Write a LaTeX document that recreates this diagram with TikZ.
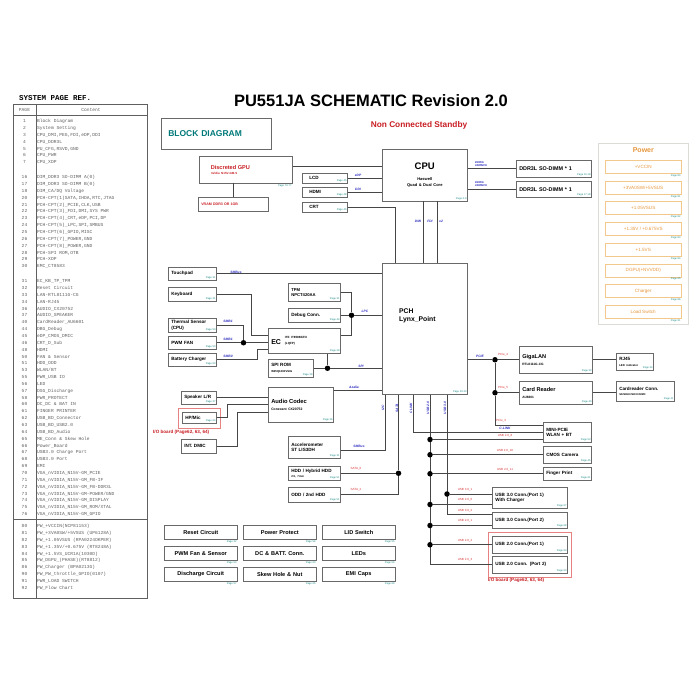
\documentclass[tikz,border=0pt]{standalone}
\usepackage{fontspec}
\setmainfont{Liberation Sans}
\newfontfamily\reffont{Liberation Mono}
\usetikzlibrary{positioning}

\definecolor{wiregray}{RGB}{70,70,70}
\definecolor{boxgray}{RGB}{105,105,105}
\definecolor{pageteal}{RGB}{20,135,130}
\definecolor{blockteal}{RGB}{0,120,120}
\definecolor{busblue}{RGB}{45,45,190}
\definecolor{sigred}{RGB}{215,50,50}
\definecolor{headred}{RGB}{200,30,35}
\definecolor{pworange}{RGB}{230,150,60}
\definecolor{pwframe}{RGB}{242,200,140}
\definecolor{panelgray}{RGB}{220,220,215}
\definecolor{ioframe}{RGB}{230,130,130}
\definecolor{tabgray}{RGB}{95,95,95}

\begin{document}
\begin{tikzpicture}[x=1pt, y=-1pt,
  box/.style = {draw=boxgray, line width=0.5pt, anchor=north west, inner sep=0pt, align=left, font=\bfseries\fontsize{4.6}{5.4}\selectfont},
  wh/.style 2 args = {minimum width=#1pt, minimum height=#2pt, text width={#1pt-6pt}},
  pgtxt/.style = {inner sep=0.8pt, text=pageteal, font=\fontsize{2.6}{3}\selectfont},
  pg/.style = {label={[pgtxt, anchor=south east]south east:Page #1}},
  pgout/.style = {label={[pgtxt, anchor=north east]south east:Page #1}},
  cellbox/.style = {box, wh={73}{14}, align=center, font=\bfseries\fontsize{5.6}{6}\selectfont},
  pwbox/.style = {draw=pwframe, line width=0.5pt, anchor=north west, minimum width=76pt, minimum height=13pt, inner sep=0pt, text=pworange, font=\fontsize{4.6}{5}\selectfont},
  iobox/.style = {draw=ioframe, line width=0.5pt, anchor=north west, inner sep=0pt},
  iotxt/.style = {text=headred, inner sep=0pt, font=\bfseries\fontsize{4.6}{5}\selectfont},
  wire/.style = {draw=wiregray, line width=0.6pt},
  joint/.style = {circle, fill=black, inner sep=0pt, minimum size=5.5pt},
  bus/.style = {text=busblue, inner sep=0.5pt, font=\bfseries\itshape\fontsize{3.3}{3.6}\selectfont},
  sig/.style = {text=sigred, inner sep=0.5pt, font=\fontsize{3}{3.4}\selectfont},
  tabtxt/.style = {inner sep=0pt, text=tabgray, font=\reffont\fontsize{4.6}{6.85}\selectfont}
]
\useasboundingbox (0,0) rectangle (700,700);

% page reference table
\node[anchor=west, inner sep=0pt, font=\reffont\bfseries\fontsize{7.5}{8}\selectfont] (sysref) at (19,98) {SYSTEM PAGE REF.};
\node[draw=tabgray, line width=0.6pt, anchor=north west, minimum width=134pt, minimum height=494pt, inner sep=0pt] (reftab) at (13,104) {};
\draw[tabgray, line width=0.6pt] ([xshift=23pt]reftab.north west) -- ([xshift=23pt]reftab.south west);
\draw[tabgray, line width=0.6pt] ([yshift=-11pt]reftab.north west) -- ([yshift=-11pt]reftab.north east);
\draw[tabgray, line width=0.6pt] ([yshift=-415pt]reftab.north west) -- ([yshift=-415pt]reftab.north east);
\node[tabtxt] (pagehd) at (24.5,110) {PAGE};
\node[tabtxt] (conthd) at (91,110) {Content};

\node[tabtxt, anchor=north, align=center] (pgA) at (24.5,117.7) {\strut 1\\2\\3\\4\\5\\6\\7};
\node[tabtxt, anchor=north west, align=left] (ctA) at (37,117.7) {\strut Block Diagram\\System Setting\\CPU\_DMI,PEG,FDI,eDP,DDI\\CPU\_DDR3L\\PU\_CFG,RSVD,GND\\CPU\_PWR\\CPU\_XDP};
\node[tabtxt, anchor=north, align=center] (pgB) at (24.5,173.7) {\strut 16\\17\\18\\20\\21\\22\\23\\24\\25\\26\\27\\28\\29\\30};
\node[tabtxt, anchor=north west, align=left] (ctB) at (37,173.7) {\strut DIM\_DDR3 SO-DIMM A(0)\\DIM\_DDR3 SO-DIMM B(0)\\DIM\_CA/DQ Voltage\\PCH-CPT(1)SATA,IHDA,RTC,JTAG\\PCH-CPT(2)\_PCIE,CLK,USB\\PCH-CPT(3)\_FDI,DMI,SYS PWR\\PCH-CPT(4)\_CRT,eDP,PCI,DP\\PCH-CPT(5)\_LPC,SPI,SMBUS\\PCH-CPT(6)\_GPIO,MISC\\PCH-CPT(7)\_POWER,GND\\PCH-CPT(8)\_POWER,GND\\PCH-SPI ROM,OTB\\PCH-XDP\\EMC\_CT8583};
\node[tabtxt, anchor=north, align=center] (pgC) at (24.5,277.7) {\strut 31\\32\\33\\34\\36\\37\\40\\44\\45\\46\\48\\50\\51\\53\\55\\56\\57\\58\\60\\61\\62\\63\\64\\65\\66\\67\\68\\69\\70\\71\\72\\73\\74\\75\\76};
\node[tabtxt, anchor=north west, align=left] (ctC) at (37,277.7) {\strut EC\_KB\_TP\_TPM\\Reset Circuit\\LAN-RTL8111G-CG\\LAN-RJ45\\AUDIO\_CX20752\\AUDIO\_SPEAKER\\CardReader\_AU6601\\DBG\_Debug\\eDP\_CMOS\_DMIC\\CRT\_D\_Sub\\HDMI\\FAN \& Sensor\\HDD\_ODD\\WLAN/BT\\PWR\_USB IO\\LED\\DSG\_Discharge\\PWR\_PROTECT\\DC\_DC \& BAT IN\\FINGER PRINTER\\USB\_BD\_Connector\\USB\_BD\_USB2.0\\USB\_BD\_Audio\\ME\_Conn \& Skew Hole\\Power\_Board\\USB3.0 Charge Port\\USB3.0 Port\\EMI\\VGA\_nVIDIA\_N15V-GM\_PCIE\\VGA\_nVIDIA\_N15V-GM\_FB-IF\\VGA\_nVIDIA\_N15V-GM\_FB-DDR3L\\VGA\_nVIDIA\_N15V-GM-POWER/GND\\VGA\_nVIDIA\_N15V-GM\_DISPLAY\\VGA\_nVIDIA\_N15V-GM\_ROM/XTAL\\VGA\_nVIDIA\_N15V-GM\_GPIO};
\node[tabtxt, anchor=north, align=center] (pgD) at (24.5,522.7) {\strut 80\\81\\82\\83\\84\\85\\86\\90\\91\\92};
\node[tabtxt, anchor=north west, align=left] (ctD) at (37,522.7) {\strut PW\_+VCCIN(NCP81153)\\PW\_+3VA0SW/+5VSUS (UP6128A)\\PW\_+1.05VSUS (RPA0224OKPER)\\PW\_+1.35V/+0.675V (RT8248A)\\PW\_+1.5VS\_UCR1A(1030D)\\PW\_DGPU\_(PHASE)(RT8812)\\PW\_Charger (BPA0213G)\\PW\_PW\_throttle\_GPIO(0107)\\PWR\_LOAD SWITCH\\PW\_Flow Chart};

% headings
\node[inner sep=0pt, font=\bfseries\fontsize{16.5}{18}\selectfont] (title) at (371,101) {PU551JA SCHEMATIC Revision 2.0};
\node[inner sep=0pt, text=headred, font=\bfseries\fontsize{8.3}{9}\selectfont] (standby) at (419,125) {Non Connected Standby};
\node[box, wh={110}{31}, text width=96pt, text=blockteal, font=\bfseries\fontsize{8.5}{9}\selectfont] (blockdiag) at (161,118) {BLOCK DIAGRAM};

% CPU and video
\node[box, wh={93}{27}, text width=70pt, text=headred, pgout=70-77] (gpu) at (199,156) {{\fontsize{5.6}{7}\selectfont Discreted GPU}\\{\fontsize{3}{4}\selectfont nVidia N15V-GM-S}};
\node[box, wh={70}{14}, text=headred, font=\bfseries\fontsize{3.6}{4}\selectfont] (vram) at (198,197) {VRAM DDR3 OR 1GB};
\node[box, wh={45}{10}, text width=31pt, pg=45] (lcd) at (302,173) {LCD};
\node[box, wh={45}{10}, text width=31pt, pg=48] (hdmi) at (302,187) {HDMI};
\node[box, wh={45}{10}, text width=31pt, pg=46] (crt) at (302,202) {CRT};
\node[box, wh={85}{52}, align=center, pg=3-9] (cpu) at (382,149) {{\fontsize{9.5}{11}\selectfont CPU}\\[5pt]{\fontsize{4}{5}\selectfont Haswell}\\[1pt]{\fontsize{4}{5}\selectfont Quad \& Dual Core}};
\node[box, wh={75}{17}, font=\bfseries\fontsize{5.4}{6}\selectfont, pg={16,18}] (dimmA) at (516,160) {DDR3L SO-DIMM * 1};
\node[box, wh={75}{16}, font=\bfseries\fontsize{5.4}{6}\selectfont, pg={17,18}] (dimmB) at (516,181) {DDR3L SO-DIMM * 1};

% power rails
\node[draw=panelgray, line width=0.6pt, anchor=north west, minimum width=90pt, minimum height=181pt, inner sep=0pt] (pwpanel) at (598,143) {};
\node[below=4pt of pwpanel.north, inner sep=0pt, text=pworange, font=\bfseries\fontsize{7}{8}\selectfont] (pwhead) {Power};
\node[pwbox, pgout=80] (pwA) at (605,160) {+VCCIN};
\node[pwbox, pgout=81] (pwB) at (605,180.7) {+3VA0SW/+5VSUS};
\node[pwbox, pgout=82] (pwC) at (605,201.4) {+1.05VSUS};
\node[pwbox, pgout=83] (pwD) at (605,222.1) {+1.35V / +0.675VS};
\node[pwbox, pgout=84] (pwE) at (605,242.8) {+1.5VS};
\node[pwbox, pgout=85] (pwF) at (605,263.5) {DGPU(+NVVDD)};
\node[pwbox, pgout=86] (pwG) at (605,284.2) {Charger};
\node[pwbox, pgout=91] (pwH) at (605,304.9) {Load Switch};

% PCH side
\node[box, wh={85}{131}, pg=20-30] (pch) at (382,263) {};
\node[anchor=north west, inner sep=0pt, align=left, font=\bfseries\fontsize{6.8}{8}\selectfont] (pchname) at ([xshift=17pt,yshift=-46pt]pch.north west) {PCH\\Lynx\_Point};
\node[box, wh={48}{13}, pg=31] (touch) at (168,267) {Touchpad};
\node[box, wh={48}{14}, pg=31] (kbd) at (168,287) {Keyboard};
\node[box, wh={48}{14}, pg=50] (therm) at (168,318) {Thermal Sensor\\(CPU)};
\node[box, wh={48}{13}, pg=50] (fan) at (168,336) {PWM FAN};
\node[box, wh={48}{13}, pg=60] (batt) at (168,353) {Battery Charger};
\node[box, wh={52}{18}, pg=31, font=\bfseries\fontsize{4.2}{5}\selectfont] (tpm) at (288,283) {TPM\\NPCT420AA};
\node[box, wh={52}{14}, pg=44] (dbg) at (288,308) {Debug Conn.};
\node[box, wh={72}{25}, pg=39] (ec) at (268,328) {{\fontsize{7}{8}\selectfont EC}\hspace{4pt}{\fontsize{3}{3.5}\selectfont\shortstack[l]{ITE IT8586E/FX\\(LQFP)}}};
\node[box, wh={45}{18}, pg=28] (spirom) at (268,359) {SPI ROM\\{\fontsize{2.8}{3.5}\selectfont W25Q128FVSIG}};
\node[box, wh={35}{13}, pg=37] (speaker) at (181,391) {Speaker L/R};
\node[iobox, minimum width=42pt, minimum height=20pt] (hpframe) at (178,408) {};
\node[box, wh={34}{11}, pg=64] (hpmic) at (182,412) {HP/Mic};
\node[iotxt, anchor=north west] (hpnote) at (153,430) {I/O board (Page62, 63, 64)};
\node[box, wh={35}{14}] (dmic) at (181,439) {INT. DMIC};
\node[box, wh={65}{35}, pg=36] (codec) at (268,387) {{\fontsize{5.8}{7}\selectfont Audio Codec}\\[1pt]{\fontsize{3.4}{4}\selectfont Conexant CX20752}};
\node[box, wh={52}{22}, pg=31] (accel) at (288,436) {Accelerometer\\ST LIS3DH};
\node[box, wh={52}{14}, pg=51] (hdd) at (288,466) {HDD / Hybrid HDD\\{\fontsize{2.8}{3.4}\selectfont 2.5, 7mm}};
\node[box, wh={52}{15}, pg=51] (odd) at (288,487) {ODD / 2nd HDD};

% PCIe and USB devices
\node[box, wh={73}{27}, pg=33] (lan) at (519,346) {{\fontsize{5.6}{6.5}\selectfont GigaLAN}\\[2pt]{\fontsize{3.2}{4}\selectfont RTL8111G-CG}};
\node[box, wh={37}{17}, pg=34] (rj45) at (616,353) {RJ45\\{\fontsize{2.8}{3.4}\selectfont LED indicator}};
\node[box, wh={73}{23}, pg=40] (cr) at (519,381) {{\fontsize{5.6}{6.5}\selectfont Card Reader}\\[2pt]{\fontsize{3.2}{4}\selectfont AU6601}};
\node[box, wh={58}{20}, pg=41] (crconn) at (616,381) {Cardreader Conn.\\{\fontsize{2.6}{3.4}\selectfont SD/SDHC/SDXC/MMC}};
\node[box, wh={48}{20}, pg=53] (mpcie) at (543,422) {MINI-PCIE\\WLAN + BT};
\node[box, wh={48}{17}, pg=45] (cam) at (543,446) {CMOS Camera};
\node[box, wh={48}{13}, pg=61] (fp) at (543,467) {Finger Print};
\node[box, wh={75}{21}, pg=67] (usbA) at (492,487) {USB 3.0 Conn.(Port 1)\\With Charger};
\node[box, wh={75}{16}, pg=68] (usbB) at (492,512) {USB 3.0 Conn.(Port 2)};
\node[iobox, minimum width=83pt, minimum height=45pt] (ioframe) at (488,532) {};
\node[box, wh={75}{17}, pg=63] (usbC) at (492,536) {USB 2.0 Conn.(Port 1)};
\node[box, wh={75}{17}, pg=63] (usbD) at (492,556) {USB 2.0 Conn. (Port 2)};
\node[iotxt, anchor=north west] (ionote) at (488,578) {I/O board (Page62, 63, 64)};

% misc pages
\node[cellbox, pgout=32] (reset) at (164,525) {Reset Circuit};
\node[cellbox, pgout=58] (protect) at (243,525) {Power Protect};
\node[cellbox, pgout=55] (lid) at (322,525) {LID Switch};
\node[cellbox, pgout=50] (pwmfan) at (164,546) {PWM Fan \& Sensor};
\node[cellbox, pgout=60] (dcbatt) at (243,546) {DC \& BATT. Conn.};
\node[cellbox, pgout=56] (leds) at (322,546) {LEDs};
\node[cellbox, pgout=57] (dsg) at (164,567) {Discharge Circuit};
\node[cellbox, pgout=65] (skew) at (243,567) {Skew Hole \& Nut};
\node[cellbox, pgout=69] (emi) at (322,567) {EMI Caps};

% CPU links
\draw[wire] ([yshift=3.5pt]gpu.east) -- ([yshift=3.5pt]gpu.east -| cpu.west);
\draw[wire] (vram.north) -- (vram.north |- gpu.south);
\draw[wire] (lcd.east) -- (lcd.east -| cpu.west);
\draw[wire] (hdmi.east) -- (hdmi.east -| cpu.west);
\draw[wire] (crt.east) -| ([xshift=13pt]pch.north west);
\draw[wire] ([xshift=41pt]cpu.south west) -- ([xshift=41pt]pch.north west);
\draw[wire] ([xshift=55pt]cpu.south west) -- ([xshift=55pt]pch.north west);
\draw[wire] (dimmA.west) -- (dimmA.west -| cpu.east);
\draw[wire] (dimmB.west) -- (dimmB.west -| cpu.east);

% EC and audio links
\draw[wire] (touch.east) -- (touch.east -| pch.west);
\draw[wire] (kbd.east) -| ([xshift=-17pt,yshift=-7pt]ec.north west) -- ([yshift=-7pt]ec.north west);
\node[joint] (sensdot) at ([xshift=27pt]fan.east) {};
\draw[wire] (therm.east) -| (sensdot);
\draw[wire] (fan.east) -- (sensdot) -- (sensdot -| ec.west);
\draw[wire] (batt.east) -| ([xshift=-11pt,yshift=4pt]ec.south west) -- ([yshift=4pt]ec.south west);
\node[joint] (lpcdot) at ([xshift=11pt]dbg.east) {};
\draw[wire] (tpm.east) -| (lpcdot);
\draw[wire] (dbg.east) -- (lpcdot) -- (lpcdot -| pch.west);
\draw[wire] ([yshift=-7pt]ec.north east) -| (lpcdot);
\node[joint] (spidot) at ([xshift=14pt]spirom.east) {};
\draw[wire] (spirom.east) -- (spidot) -- (spidot -| pch.west);
\draw[wire] (spidot |- ec.south) -- (spidot);
\draw[wire] ([yshift=-3pt]codec.north east) -- ([yshift=-3pt]codec.north east -| pch.west);
\draw[wire] (speaker.east) -- (speaker.east -| codec.west);
\draw[wire] (hpmic.east) -| ([xshift=-41pt,yshift=-17pt]codec.north west) -- ([yshift=-17pt]codec.north west);
\draw[wire] (dmic.east) -| ([xshift=-31pt,yshift=-25pt]codec.north west) -- ([yshift=-25pt]codec.north west);
\draw[wire] ([yshift=-3pt]accel.east) -| ([xshift=3pt]pch.south west);
\node[joint] (satadot) at ([xshift=58pt]hdd.east) {};
\draw[wire] (hdd.east) -- (satadot) -- (satadot |- pch.south);
\draw[wire] (odd.east) -| (satadot);

% PCIe links
\node[joint] (landot) at ([xshift=-24pt]lan.west) {};
\node[joint] (crdot) at ([xshift=-24pt]cr.west) {};
\draw[wire] (landot -| pch.east) -- (landot) -- (lan.west);
\draw[wire] (landot) -- (crdot) -- (cr.west);
\draw[wire] (crdot) |- ([yshift=-3pt]mpcie.north west);
\draw[wire] (lan.east) -- (lan.east -| rj45.west);
\draw[wire] (cr.east) -- (cr.east -| crconn.west);
\draw[wire] ([xshift=31pt]pch.south west) |- (mpcie.west);

% USB links
\coordinate (usb2top) at ([xshift=48pt]pch.south west);
\coordinate (usb3top) at ([xshift=65pt]pch.south west);
\draw[wire] (usb2top) |- (usbD.west);
\draw[wire] (usb3top) |- ([yshift=-2pt]usbB.north west);
\node[joint] (uA) at ([yshift=3pt]mpcie.south west -| usb2top) {};
\node[joint] (uB) at (usb2top |- cam.west) {};
\node[joint] (uC) at (usb2top |- fp.west) {};
\node[joint] (uD) at ([yshift=4pt]usbA.south west -| usb2top) {};
\node[joint] (uE) at ([yshift=3pt]usbB.south west -| usb2top) {};
\node[joint] (uF) at (usb2top |- usbC.west) {};
\node[joint] (vA) at ([yshift=-7pt]usbA.north west -| usb3top) {};
\draw[wire] (uA) -- (uA -| mpcie.west);
\draw[wire] (uB) -- (cam.west);
\draw[wire] (uC) -- (fp.west);
\draw[wire] (uD) -- (uD -| usbA.west);
\draw[wire] (uE) -- (uE -| usbB.west);
\draw[wire] (uF) -- (usbC.west);
\draw[wire] (vA) -- (vA -| usbA.west);

% bus names
\node[bus] (edpL) at (358,175) {eDP};
\node[bus] (ddiL) at (358,189) {DDI};
\node[bus] (dmiL) at (418,221) {DMI};
\node[bus] (fdiL) at (430,221) {FDI};
\node[bus] (x2L) at (441,221) {x2};
\node[bus, align=left, font=\bfseries\itshape\fontsize{2.8}{3}\selectfont] (ddrAL) at (481,164) {DDR3L\\1600MHz};
\node[bus, align=left, font=\bfseries\itshape\fontsize{2.8}{3}\selectfont] (ddrBL) at (481,184) {DDR3L\\1600MHz};
\node[bus] (smbTL) at (236,272) {SMBus};
\node[bus] (smb1L) at (228,321) {SMB1};
\node[bus] (smb2L) at (228,339) {SMB1};
\node[bus] (smb0L) at (228,356) {SMB0};
\node[bus] (lpcL) at (365,311) {LPC};
\node[bus] (spiL) at (361,366) {SPI};
\node[bus] (azL) at (354,387) {Azalia};
\node[bus] (smbAL) at (359,446) {SMBus};
\node[sig] (sata0L) at (356,469) {SATA\_0};
\node[sig] (sata2L) at (356,490) {SATA\_2};
\node[bus, rotate=90] (i2cL) at (383,408) {I2C};
\node[bus, rotate=90] (sataL) at (397,408) {SATA};
\node[bus, rotate=90] (clkL) at (411,408) {CLINK};
\node[bus, rotate=90] (u2L) at (428,408) {USB 2.0};
\node[bus, rotate=90] (u3L) at (445,408) {USB 3.0};
\node[bus] (pcieL) at (480,356) {PCIE};
\node[sig] (p4L) at (503,355) {PCIe\_4};
\node[sig] (p5L) at (503,388) {PCIe\_5};
\node[sig] (p3L) at (501,421) {PCIe\_3};
\node[bus] (clinkL) at (505,428.5) {C-LINK};
\node[sig] (u8L) at (505,435.5) {USB 2.0\_8};
\node[sig] (u10L) at (505,451) {USB 2.0\_10};
\node[sig] (u11L) at (505,470) {USB 2.0\_11};
\node[sig] (s31L) at (465,490) {USB 3.0\_1};
\node[sig] (s20L) at (465,500) {USB 2.0\_0};
\node[sig] (s32L) at (465,510.5) {USB 3.0\_2};
\node[sig] (s21L) at (465,521) {USB 2.0\_1};
\node[sig] (s22L) at (465,541) {USB 2.0\_2};
\node[sig] (s23L) at (465,560) {USB 2.0\_3};
\end{tikzpicture}
\end{document}
